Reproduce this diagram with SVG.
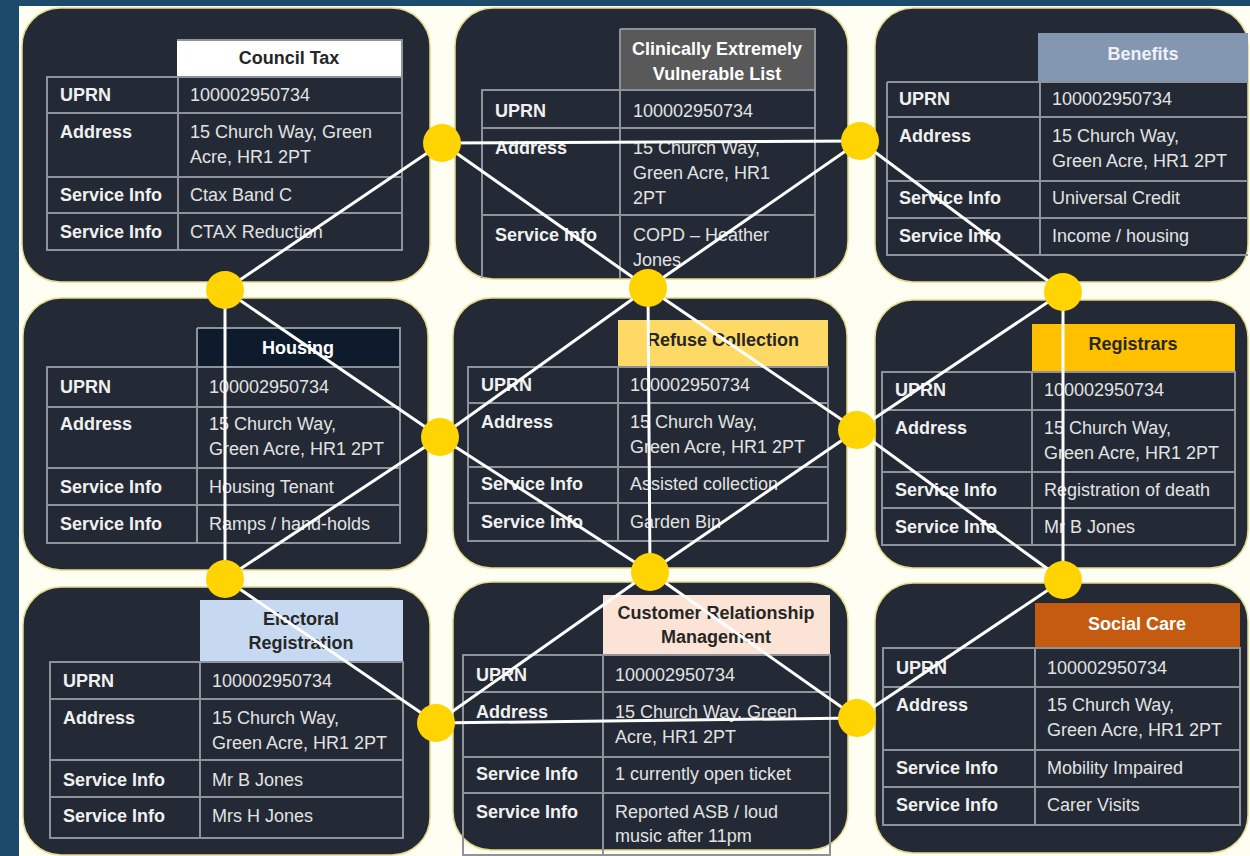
<svg xmlns="http://www.w3.org/2000/svg" width="1250" height="856" viewBox="0 0 1250 856">
<style>
.panel{fill:#232a35;stroke:#e4d98c;stroke-width:1.5}
.grid{fill:none;stroke:#8e939b;stroke-width:2}
.t{font-family:"Liberation Sans",Arial,sans-serif;font-size:18px}
.lbl{font-weight:bold;fill:#f0f0f0}
.val{fill:#e2e2e2}
.hdr{font-weight:bold;text-anchor:middle}
.dk{fill:#262626}
.wt{fill:#ffffff}
.conn line{stroke:#ffffff;stroke-width:3;stroke-linecap:round}
.dot{fill:#ffd400}
</style>
<rect x="0" y="0" width="1250" height="856" fill="#1b4a6b"/>
<rect x="19" y="6" width="1231" height="850" fill="#fffef2"/>

<g id="council-tax">
<rect class="panel" x="22" y="8" width="408" height="274" rx="38"/>
<rect x="177" y="40" width="225" height="37" fill="#ffffff"/>
<text class="t hdr dk" x="289" y="64">Council Tax</text>
<path class="grid" d="M47 77H402V250H47Z M178 77V250 M47 113H402 M47 177H402 M47 213H402 M177 40H402V77"/>
<text class="t lbl" x="60" y="101">UPRN</text><text class="t val" x="190" y="101">100002950734</text>
<text class="t lbl" x="60" y="138">Address</text><text class="t val" x="190" y="138">15 Church Way, Green</text><text class="t val" x="190" y="163">Acre, HR1 2PT</text>
<text class="t lbl" x="60" y="201">Service Info</text><text class="t val" x="190" y="201">Ctax Band C</text>
<text class="t lbl" x="60" y="238">Service Info</text><text class="t val" x="190" y="238">CTAX Reduction</text>
</g>

<g id="cev-list">
<rect class="panel" x="455" y="8" width="393" height="271" rx="38"/>
<rect x="620" y="29" width="195" height="61" fill="#595959"/>
<text class="t hdr wt" x="717" y="55">Clinically Extremely</text>
<text class="t hdr wt" x="717" y="80">Vulnerable List</text>
<path class="grid" d="M482 278V90H815V278 M620 29V278 M620 29H815V90 M482 128H815 M482 215H815"/>
<text class="t lbl" x="495" y="117">UPRN</text><text class="t val" x="633" y="117">100002950734</text>
<text class="t lbl" x="495" y="154">Address</text><text class="t val" x="633" y="154">15 Church Way,</text><text class="t val" x="633" y="179">Green Acre, HR1</text><text class="t val" x="633" y="204">2PT</text>
<text class="t lbl" x="495" y="241">Service Info</text><text class="t val" x="633" y="241">COPD – Heather</text><text class="t val" x="633" y="266">Jones</text>
</g>

<g id="benefits">
<rect class="panel" x="875" y="8" width="373" height="274" rx="38"/>
<rect x="1038" y="33" width="210" height="49" fill="#8497b0"/>
<text class="t hdr" fill="#eef2f8" x="1143" y="60">Benefits</text>
<path class="grid" d="M887 82H1248 M887 82V255H1248 M1040 82V255 M887 117H1248 M887 181H1248 M887 218H1248"/>
<text class="t lbl" x="899" y="105">UPRN</text><text class="t val" x="1052" y="105">100002950734</text>
<text class="t lbl" x="899" y="142">Address</text><text class="t val" x="1052" y="142">15 Church Way,</text><text class="t val" x="1052" y="167">Green Acre, HR1 2PT</text>
<text class="t lbl" x="899" y="204">Service Info</text><text class="t val" x="1052" y="204">Universal Credit</text>
<text class="t lbl" x="899" y="242">Service Info</text><text class="t val" x="1052" y="242">Income / housing</text>
</g>

<g id="housing">
<rect class="panel" x="23" y="298" width="405" height="272" rx="38"/>
<rect x="197" y="328" width="203" height="39" fill="#0e1b2d"/>
<text class="t hdr wt" x="298" y="354">Housing</text>
<path class="grid" d="M47 367H400V543H47Z M197 328V543 M197 328H400V367 M47 407H400 M47 468H400 M47 505H400"/>
<text class="t lbl" x="60" y="393">UPRN</text><text class="t val" x="209" y="393">100002950734</text>
<text class="t lbl" x="60" y="430">Address</text><text class="t val" x="209" y="430">15 Church Way,</text><text class="t val" x="209" y="455">Green Acre, HR1 2PT</text>
<text class="t lbl" x="60" y="493">Service Info</text><text class="t val" x="209" y="493">Housing Tenant</text>
<text class="t lbl" x="60" y="530">Service Info</text><text class="t val" x="209" y="530">Ramps / hand-holds</text>
</g>

<g id="refuse-collection">
<rect class="panel" x="453" y="298" width="394" height="270" rx="38"/>
<rect x="618" y="320" width="210" height="47" fill="#ffd966"/>
<text class="t hdr dk" x="723" y="346">Refuse Collection</text>
<path class="grid" d="M468 367H828V541H468Z M618 367V541 M468 403H828 M468 467H828 M468 503H828"/>
<text class="t lbl" x="481" y="391">UPRN</text><text class="t val" x="630" y="391">100002950734</text>
<text class="t lbl" x="481" y="428">Address</text><text class="t val" x="630" y="428">15 Church Way,</text><text class="t val" x="630" y="453">Green Acre, HR1 2PT</text>
<text class="t lbl" x="481" y="490">Service Info</text><text class="t val" x="630" y="490">Assisted collection</text>
<text class="t lbl" x="481" y="528">Service Info</text><text class="t val" x="630" y="528">Garden Bin</text>
</g>

<g id="registrars">
<rect class="panel" x="875" y="300" width="373" height="268" rx="38"/>
<rect x="1032" y="324" width="203" height="48" fill="#ffc000"/>
<text class="t hdr dk" x="1133" y="350">Registrars</text>
<path class="grid" d="M882 372H1235V545H882Z M1032 372V545 M882 410H1235 M882 472H1235 M882 508H1235"/>
<text class="t lbl" x="895" y="396">UPRN</text><text class="t val" x="1044" y="396">100002950734</text>
<text class="t lbl" x="895" y="434">Address</text><text class="t val" x="1044" y="434">15 Church Way,</text><text class="t val" x="1044" y="459">Green Acre, HR1 2PT</text>
<text class="t lbl" x="895" y="496">Service Info</text><text class="t val" x="1044" y="496">Registration of death</text>
<text class="t lbl" x="895" y="533">Service Info</text><text class="t val" x="1044" y="533">Mr B Jones</text>
</g>

<g id="electoral-registration">
<rect class="panel" x="23" y="587" width="407" height="268" rx="38"/>
<rect x="200" y="600" width="203" height="62" fill="#c6d9f1"/>
<text class="t hdr dk" x="301" y="625">Electoral</text>
<text class="t hdr dk" x="301" y="649">Registration</text>
<path class="grid" d="M50 662H403V838H50Z M200 662V838 M50 699H403 M50 760H403 M50 797H403"/>
<text class="t lbl" x="63" y="687">UPRN</text><text class="t val" x="212" y="687">100002950734</text>
<text class="t lbl" x="63" y="724">Address</text><text class="t val" x="212" y="724">15 Church Way,</text><text class="t val" x="212" y="749">Green Acre, HR1 2PT</text>
<text class="t lbl" x="63" y="786">Service Info</text><text class="t val" x="212" y="786">Mr B Jones</text>
<text class="t lbl" x="63" y="822">Service Info</text><text class="t val" x="212" y="822">Mrs H Jones</text>
</g>

<g id="crm">
<rect class="panel" x="453" y="582" width="395" height="268" rx="38"/>
<rect x="603" y="595" width="227" height="60" fill="#fbe4d5"/>
<text class="t hdr dk" x="716" y="619">Customer Relationship</text>
<text class="t hdr dk" x="716" y="643">Management</text>
<path class="grid" d="M463 655H830V855H463Z M603 655V855 M463 692H830 M463 757H830 M463 793H830"/>
<text class="t lbl" x="476" y="681">UPRN</text><text class="t val" x="615" y="681">100002950734</text>
<text class="t lbl" x="476" y="718">Address</text><text class="t val" x="615" y="718">15 Church Way, Green</text><text class="t val" x="615" y="743">Acre, HR1 2PT</text>
<text class="t lbl" x="476" y="780">Service Info</text><text class="t val" x="615" y="780">1 currently open ticket</text>
<text class="t lbl" x="476" y="818">Service Info</text><text class="t val" x="615" y="818">Reported ASB / loud</text><text class="t val" x="615" y="842">music after 11pm</text>
</g>

<g id="social-care">
<rect class="panel" x="875" y="583" width="373" height="270" rx="38"/>
<rect x="1035" y="603" width="205" height="45" fill="#c55a11"/>
<text class="t hdr wt" x="1137" y="630">Social Care</text>
<path class="grid" d="M883 648H1240V825H883Z M1035 648V825 M883 687H1240 M883 750H1240 M883 787H1240"/>
<text class="t lbl" x="896" y="674">UPRN</text><text class="t val" x="1047" y="674">100002950734</text>
<text class="t lbl" x="896" y="711">Address</text><text class="t val" x="1047" y="711">15 Church Way,</text><text class="t val" x="1047" y="736">Green Acre, HR1 2PT</text>
<text class="t lbl" x="896" y="774">Service Info</text><text class="t val" x="1047" y="774">Mobility Impaired</text>
<text class="t lbl" x="896" y="811">Service Info</text><text class="t val" x="1047" y="811">Carer Visits</text>
</g>

<g id="connectors" class="conn">
<line x1="442" y1="143" x2="860" y2="141"/>
<line x1="442" y1="143" x2="225" y2="290"/>
<line x1="442" y1="143" x2="648" y2="288"/>
<line x1="860" y1="141" x2="648" y2="288"/>
<line x1="860" y1="141" x2="1063" y2="292"/>
<line x1="225" y1="290" x2="440" y2="437"/>
<line x1="225" y1="290" x2="225" y2="579"/>
<line x1="648" y1="288" x2="440" y2="437"/>
<line x1="648" y1="288" x2="857" y2="430"/>
<line x1="648" y1="288" x2="650" y2="572"/>
<line x1="1063" y1="292" x2="857" y2="430"/>
<line x1="1063" y1="292" x2="1063" y2="580"/>
<line x1="440" y1="437" x2="225" y2="579"/>
<line x1="440" y1="437" x2="650" y2="572"/>
<line x1="857" y1="430" x2="650" y2="572"/>
<line x1="857" y1="430" x2="1063" y2="580"/>
<line x1="225" y1="579" x2="436" y2="723"/>
<line x1="650" y1="572" x2="436" y2="723"/>
<line x1="650" y1="572" x2="857" y2="718"/>
<line x1="1063" y1="580" x2="857" y2="718"/>
<line x1="436" y1="723" x2="857" y2="718"/>
</g>

<g id="junctions">
<circle class="dot" cx="442" cy="143" r="19"/>
<circle class="dot" cx="860" cy="141" r="19"/>
<circle class="dot" cx="225" cy="290" r="19"/>
<circle class="dot" cx="648" cy="288" r="19"/>
<circle class="dot" cx="1063" cy="292" r="19"/>
<circle class="dot" cx="440" cy="437" r="19"/>
<circle class="dot" cx="857" cy="430" r="19"/>
<circle class="dot" cx="225" cy="579" r="19"/>
<circle class="dot" cx="650" cy="572" r="19"/>
<circle class="dot" cx="1063" cy="580" r="19"/>
<circle class="dot" cx="436" cy="723" r="19"/>
<circle class="dot" cx="857" cy="718" r="19"/>
</g>
</svg>
